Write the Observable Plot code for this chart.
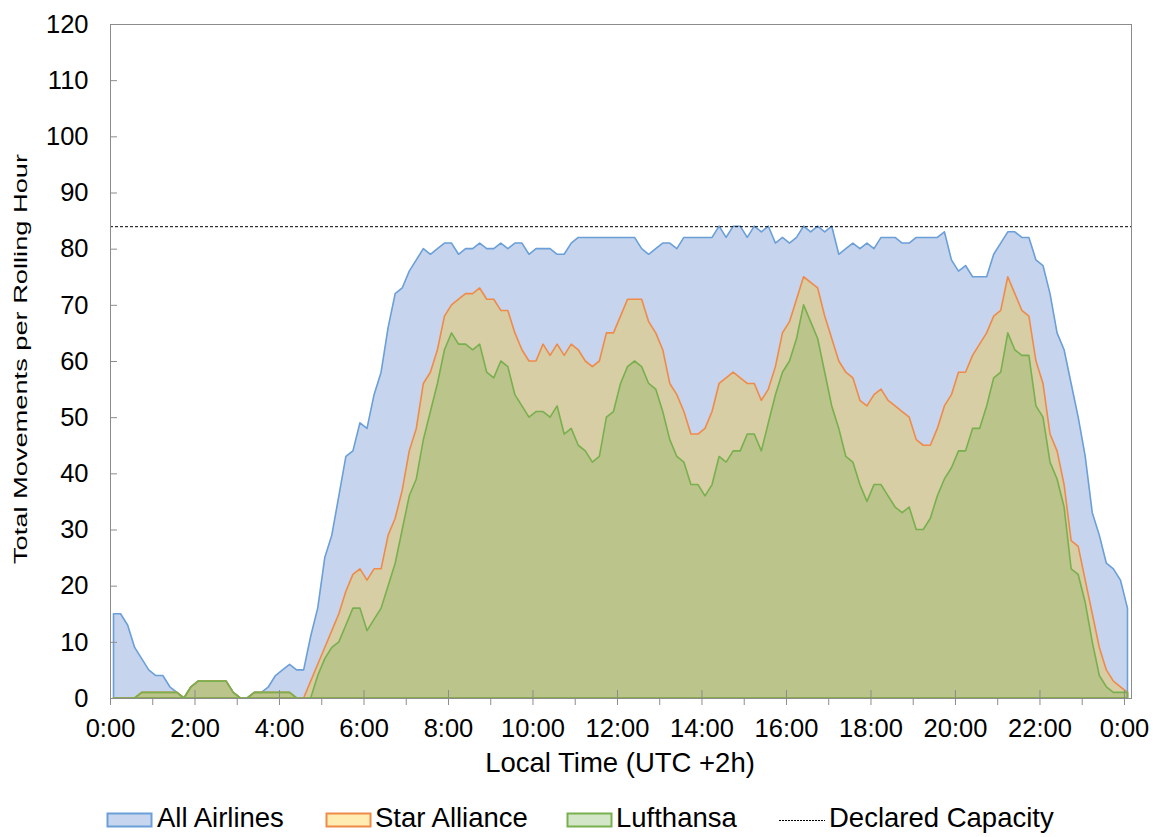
<!DOCTYPE html>
<html><head><meta charset="utf-8">
<script src="https://cdn.jsdelivr.net/npm/d3@7"></script>
<script src="https://cdn.jsdelivr.net/npm/@observablehq/plot@0.6"></script>
<style>
html,body{margin:0;padding:0;background:#fff;}
#wrap{position:relative;width:1159px;height:837px;font-family:"Liberation Sans",Arial,sans-serif;color:#000;overflow:hidden;}
#chart svg{display:block;}
</style></head><body><div id="wrap"><div id="chart"></div></div>
<script>
// ---- data ----
const slotMinutes = 10;          // rolling hour sampled every 10 minutes
const slotCentre = 0.5;          // points sit in the middle of each 10-minute slot
const declaredCapacity = 84;
const yTicks = [0, 10, 20, 30, 40, 50, 60, 70, 80, 90, 100, 110, 120];
const xMajorTicks = [0, 2, 4, 6, 8, 10, 12, 14, 16, 18, 20, 22, 24];
const xMinorTicks = [1, 3, 5, 7, 9, 11, 13, 15, 17, 19, 21, 23];
const seriesNames = ["All Airlines", "Star Alliance", "Lufthansa"];

const allAirlines = [
  15,15,13,9,7,5,4,4,2,1,
  0,2,3,3,3,3,3,1,0,0,
  1,1,2,4,5,6,5,5,11,16,
  25,29,36,43,44,49,48,54,58,66,
  72,73,76,78,80,79,80,81,81,79,
  80,80,81,80,80,81,80,81,81,79,
  80,80,80,79,79,81,82,82,82,82,
  82,82,82,82,82,80,79,80,81,81,
  80,82,82,82,82,82,84,82,84,84,
  82,84,83,84,81,82,81,82,84,83,
  84,83,84,79,80,81,80,81,80,82,
  82,82,81,81,82,82,82,82,83,78,
  76,77,75,75,75,79,81,83,83,82,
  82,78,77,72,65,62,56,50,43,33,
  29,24,23,21,16
];
const starAlliance = [
  0,0,0,0,1,1,1,1,1,1,
  0,2,3,3,3,3,3,1,0,0,
  1,1,1,1,1,1,0,0,3,6,
  9,12,15,19,22,23,21,23,23,29,
  32,37,44,48,56,58,62,68,70,71,
  72,72,73,71,71,69,69,65,62,60,
  60,63,61,63,61,63,62,60,59,60,
  65,65,68,71,71,71,67,65,62,56,
  54,51,47,47,48,51,56,57,58,57,
  56,56,53,55,59,65,67,71,75,74,
  73,68,64,60,58,57,53,52,54,55,
  53,52,51,50,46,45,45,48,52,54,
  58,58,61,63,65,68,69,75,72,69,
  68,60,56,47,44,38,28,27,21,15,
  9,5,3,2,1
];
const lufthansa = [
  0,0,0,0,1,1,1,1,1,1,
  0,2,3,3,3,3,3,1,0,0,
  1,1,1,1,1,1,0,0,0,4,
  7,9,10,13,16,16,12,14,16,20,
  24,30,36,39,46,51,56,62,65,63,
  63,62,63,58,57,60,59,54,52,50,
  51,51,50,52,47,48,45,44,42,43,
  50,51,56,59,60,59,56,55,51,46,
  43,42,38,38,36,38,43,42,44,44,
  47,47,44,49,54,58,60,64,70,67,
  64,58,52,48,43,42,38,35,38,38,
  36,34,33,34,30,30,32,36,39,41,
  44,44,48,48,52,57,58,65,62,61,
  61,52,50,42,39,34,23,22,17,10,
  4,2,1,1,1
];

// ---- styling ----
const seriesValues = [allAirlines, starAlliance, lufthansa];
const areaFills = ["#4472c4", "#ffc000", "#70ad47"];
const areaOpacity = [0.3, 0.3, 0.28];
const lineColors = ["#6a9fd8", "#f08a48", "#78b04e"];
const swatchFills = ["#c7d5ee", "#ffecb3", "#d4e6c8"];
const axisGray = "#8c8c8c";
const fontFamily = '"Liberation Sans", Arial, sans-serif';

const rows = seriesNames.flatMap((name, k) =>
  seriesValues[k].map((value, i) => ({ name, hour: (i + slotCentre) * slotMinutes / 60, value })));

const W = 1159, H = 790;
const chart = Plot.plot({
  width: W, height: H,
  marginLeft: 110, marginRight: 28, marginTop: 24, marginBottom: 92,
  x: { domain: [0, 24 + slotMinutes / 60], label: null },
  y: { domain: [0, 120], label: null },
  style: { fontFamily, fontSize: "25.5px", color: "#000", background: "#fff", overflow: "visible" },
  marks: [
    ...seriesNames.map((name, k) => Plot.areaY(rows.filter(d => d.name === name), {
      x: "hour", y: "value", fill: areaFills[k], fillOpacity: areaOpacity[k],
      stroke: lineColors[k], strokeWidth: 1.6, strokeLinejoin: "round"
    })),
    Plot.ruleY([declaredCapacity], { stroke: "#000", strokeWidth: 1, strokeDasharray: "3,2" }),
    Plot.frame({ stroke: axisGray }),
    Plot.axisY(yTicks, { anchor: "left", tickSize: 0, tickPadding: 22, label: null, fill: "#000" }),
    Plot.axisY(yTicks, { anchor: "left", tickSize: 7, dx: 7, text: null, label: null, stroke: axisGray }),
    Plot.axisX(xMajorTicks, { anchor: "bottom", tickSize: 7, tickPadding: 13, tickFormat: h => `${h % 24}:00`, label: null, stroke: axisGray, fill: "#000" }),
    Plot.axisX(xMajorTicks, { anchor: "bottom", tickSize: 8, dy: -8, text: null, label: null, stroke: axisGray }),
    Plot.axisX(xMinorTicks, { anchor: "bottom", tickSize: 7, text: null, label: null, stroke: axisGray })
  ]
});

const svg = d3.select(chart);
svg.append("text")
  .attr("x", 620).attr("y", 772)
  .attr("text-anchor", "middle")
  .attr("font-family", fontFamily).attr("font-size", 27.5).attr("fill", "#000")
  .text("Local Time (UTC +2h)");
svg.append("text")
  .attr("transform", "translate(27,359) rotate(-90)")
  .attr("text-anchor", "middle")
  .attr("font-family", fontFamily).attr("font-size", 17.5).attr("fill", "#000")
  .attr("textLength", 410).attr("lengthAdjust", "spacingAndGlyphs")
  .text("Total Movements per Rolling Hour");

document.getElementById("chart").appendChild(chart);

// ---- legend (below the chart SVG) ----
const legend = d3.create("svg")
  .attr("width", W).attr("height", 47)
  .style("position", "absolute").style("left", "0px").style("top", H + "px");
const swatchX = [107.5, 326.5, 567.5];
const labelX = [157, 375, 616];
seriesNames.forEach((name, k) => {
  legend.append("rect").attr("x", swatchX[k]).attr("y", 23.5).attr("width", 44).attr("height", 13)
    .attr("fill", swatchFills[k]).attr("stroke", lineColors[k]).attr("stroke-width", 2);
  legend.append("text").attr("x", labelX[k]).attr("y", 37)
    .attr("font-family", fontFamily).attr("font-size", 27.5).attr("fill", "#000").text(name);
});
legend.append("line").attr("x1", 779).attr("x2", 825).attr("y1", 30.5).attr("y2", 30.5)
  .attr("stroke", "#000").attr("stroke-width", 1).attr("stroke-dasharray", "2,1");
legend.append("text").attr("x", 829).attr("y", 37)
  .attr("font-family", fontFamily).attr("font-size", 27.5).attr("fill", "#000").text("Declared Capacity");
document.getElementById("wrap").appendChild(legend.node());
</script></body></html>
